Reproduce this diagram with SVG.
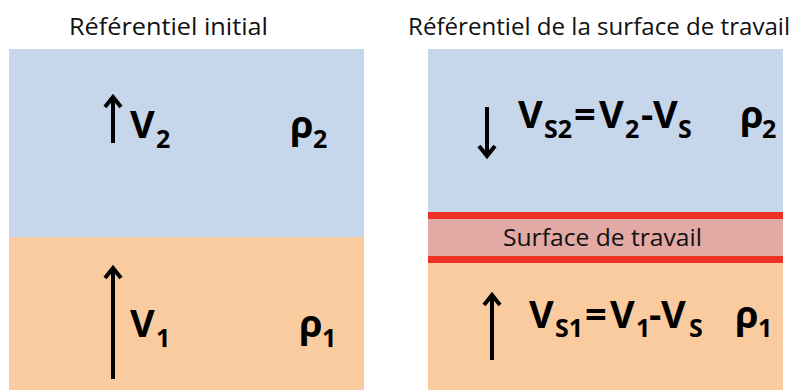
<svg xmlns="http://www.w3.org/2000/svg" width="799" height="390" viewBox="0 0 799 390">
<style>
.title{font-family:"Open Sans","Noto Sans",sans-serif;font-size:23px;fill:#111}
.big{font-family:"Open Sans","Noto Sans",sans-serif;font-weight:bold;font-size:38px;fill:#000}
.sub{font-family:"Open Sans","Noto Sans",sans-serif;font-weight:bold;font-size:25px;fill:#000}
.arr{fill:none;stroke:#000;stroke-width:4;stroke-linecap:butt;stroke-linejoin:miter}
</style>
<rect width="799" height="390" fill="#fff"/>
<g id="left-panel">
<text class="title" x="69" y="35" textLength="199" lengthAdjust="spacingAndGlyphs">Référentiel initial</text>
<rect id="left-fluid2" x="9" y="49" width="355" height="188" fill="#C6D6EB"/>
<rect id="left-fluid1" x="9" y="237" width="355" height="153" fill="#FBCBA0"/>
</g>
<g id="right-panel">
<text class="title" x="408" y="35" textLength="382" lengthAdjust="spacingAndGlyphs">Référentiel de la surface de travail</text>
<rect id="right-fluid2" x="428" y="49" width="355" height="163" fill="#C6D6EB"/>
<rect id="right-fluid1" x="428" y="263" width="355" height="127" fill="#FBCBA0"/>
</g>
<g id="surface">
<rect x="428" y="212" width="355" height="51" fill="#E2A9A5"/>
<rect x="428" y="212" width="355" height="7" fill="#EE3224"/>
<rect x="428" y="256" width="355" height="7" fill="#EE3224"/>
<text class="title" x="503" y="246" font-size="22" textLength="199" lengthAdjust="spacingAndGlyphs">Surface de travail</text>
</g>
<g id="connectors">
<path class="arr" d="M113,143 V98 M105,107 L113,97 L121,107"/>
<path class="arr" d="M113,379 V268 M105,278 L113,268 L121,278"/>
<path class="arr" d="M487,107 V155 M479,146 L487,156 L495,146"/>
<path class="arr" d="M492,360 V296 M484,305 L492,295 L500,305"/>
</g>
<g id="labels-left">
<text class="big" x="130" y="138">V</text><text class="sub" x="156" y="148">2</text>
<text class="big" x="290" y="138">ρ</text><text class="sub" x="313" y="148">2</text>
<text class="big" x="130" y="337">V</text><text class="sub" x="156" y="347">1</text>
<text class="big" x="299" y="337">ρ</text><text class="sub" x="322" y="347">1</text>
</g>
<g id="labels-right">
<text class="big" x="518" y="128">V</text><text class="sub" x="544" y="138">S2</text>
<text class="big" x="574" y="128">=</text>
<text class="big" x="599" y="128">V</text><text class="sub" x="625" y="138">2</text>
<text class="big" x="641" y="128">-</text>
<text class="big" x="653" y="128">V</text><text class="sub" x="678" y="138">S</text>
<text class="big" x="740" y="128">ρ</text><text class="sub" x="762" y="138">2</text>
<text class="big" x="529" y="328">V</text><text class="sub" x="555" y="337">S1</text>
<text class="big" x="585" y="328">=</text>
<text class="big" x="610" y="328">V</text><text class="sub" x="636" y="337">1</text>
<text class="big" x="649" y="328">-</text>
<text class="big" x="661" y="328">V</text><text class="sub" x="689" y="337">S</text>
<text class="big" x="735" y="328">ρ</text><text class="sub" x="758" y="337">1</text>
</g>
</svg>
